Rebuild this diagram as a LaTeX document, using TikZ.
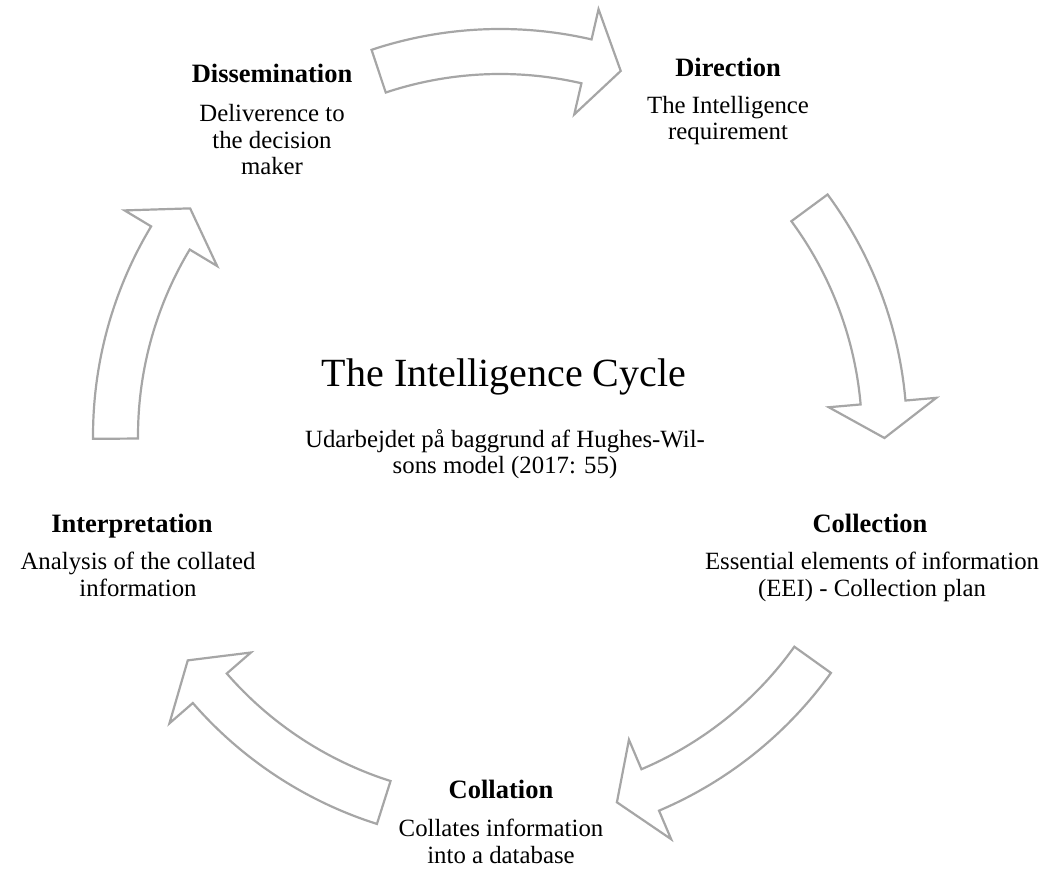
\documentclass[tikz,border=0pt]{standalone}
\usepackage{fontspec}
\setmainfont{Liberation Serif}
\definecolor{arrowgray}{RGB}{166,166,166}
\begin{document}
\begin{tikzpicture}[x=1pt,y=1pt,
  cyc/.style={draw=arrowgray, line width=2.2pt, fill=white, line join=miter},
  ttl/.style={anchor=base, font=\fontsize{26.5}{28}\selectfont\bfseries, inner sep=0pt},
  body/.style={anchor=base, font=\fontsize{24.8}{26.5}\selectfont, inner sep=0pt, align=center},
]
\useasboundingbox (0,0) rectangle (1048,868);
\coordinate (C) at (500,432);
\foreach \a in {90,18,-54,-126,-198} {
  \pgfmathsetmacro\ta{\a+18.4}
  \pgfmathsetmacro\tn{\a-13}
  \pgfmathsetmacro\tp{\a-18.3}
  \draw[cyc] ([shift={(C)}]\ta:407) arc[start angle=\ta, end angle=\tn, radius=407pt]
    -- ([shift={(C)}]\tn:438) -- ([shift={(C)}]\tp:384.5) -- ([shift={(C)}]\tn:330)
    -- ([shift={(C)}]\tn:362) arc[start angle=\tn, end angle=\ta, radius=362pt] -- cycle;
}
% Dissemination
\node[ttl] (dist) at (272,785) {Dissemination};
\node[body] (disb) at (272,693) {Deliverence to\\the decision\\maker};
% Direction
\node[ttl] (dirt) at (728,791) {Direction};
\node[body] (dirb) at (728,728) {The Intelligence\\requirement};
% Collection
\node[ttl] (colt) at (870,336) {Collection};
\node[body] (colb) at (872,272) {Essential elements of information\\(EEI) - Collection plan};
% Collation
\node[ttl] (catt) at (501,70) {Collation};
\node[body] (catb) at (501,5) {Collates information\\into a database};
% Interpretation
\node[ttl] (intt) at (132,336) {Interpretation};
\node[body] (intb) at (138,272) {Analysis of the collated\\information};
% Center
\node[anchor=base, inner sep=0pt, font=\fontsize{40}{44}\selectfont] (title) at (504,481) {The Intelligence Cycle};
\node[body] (sub) at (505,394) {Udarbejdet på baggrund af Hughes-Wil-\\sons model (2017: 55)};
\end{tikzpicture}
\end{document}
